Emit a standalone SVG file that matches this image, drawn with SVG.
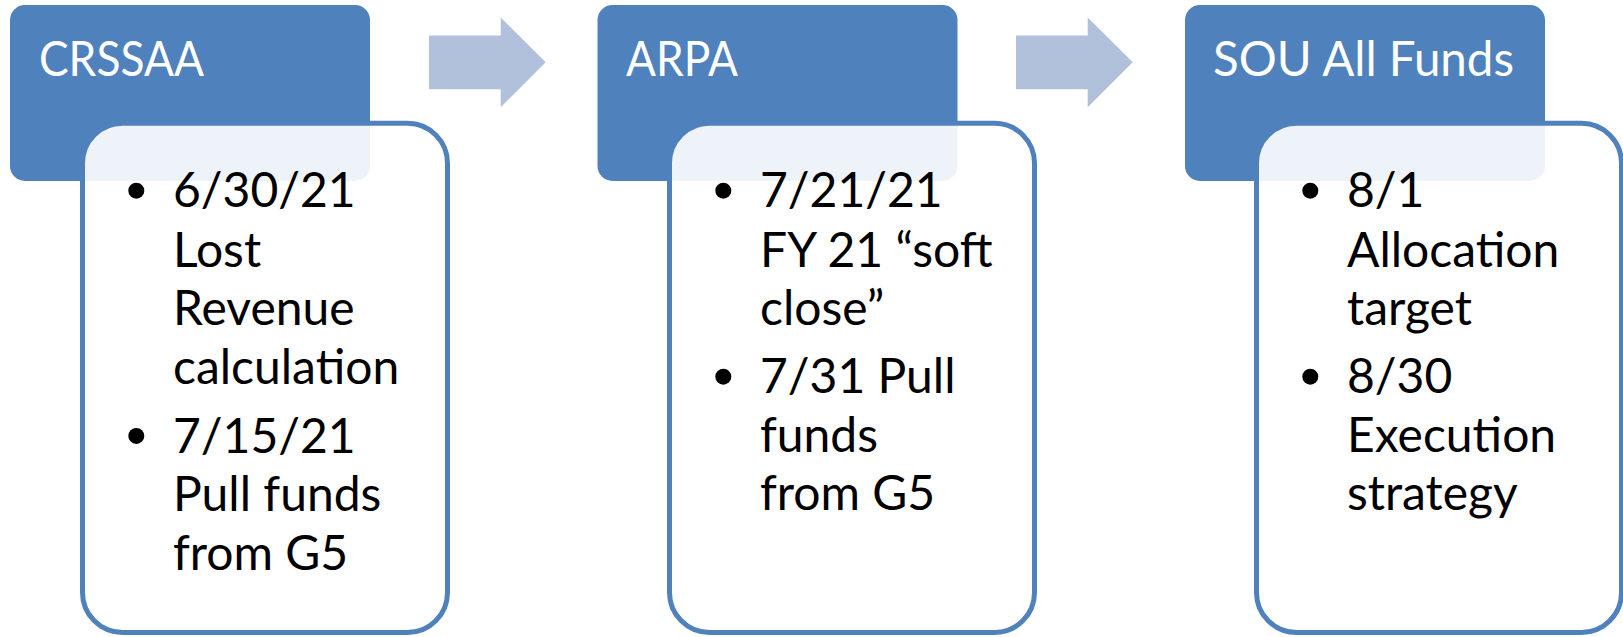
<svg xmlns="http://www.w3.org/2000/svg" width="1623" height="637" viewBox="0 0 1623 637">
  <style>
    .hdr { fill: #4F81BD; }
    .card { fill: #FFFFFF; fill-opacity: 0.9; stroke: #4F81BD; stroke-width: 5; }
    .arrow { fill: #B1C1DC; }
    .htxt { font-family: Lato, "Open Sans", sans-serif; font-size: 48px; fill: #FFFFFF; }
    .btxt { font-family: Lato, "Open Sans", sans-serif; font-size: 48px; fill: #000000; }
    .dot { fill: #000000; }
  </style>
  <rect width="1623" height="637" fill="#FFFFFF"/>

  <g id="connectors">
    <polygon class="arrow" points="429,35.5 500.7,35.5 500.7,17.5 545.7,62.3 500.7,107.3 500.7,89.3 429,89.3"/>
    <polygon class="arrow" points="1016,35.5 1087.7,35.5 1087.7,17.5 1132.7,62.3 1087.7,107.3 1087.7,89.3 1016,89.3"/>
  </g>

  <g id="node-crssaa">
    <rect class="hdr" x="10" y="5" width="360" height="176" rx="15"/>
    <text class="htxt" x="39" y="76" textLength="165" lengthAdjust="spacingAndGlyphs">CRSSAA</text>
    <rect class="card" x="82.5" y="123.2" width="365" height="509.3" rx="40"/>
    <circle class="dot" cx="136.3" cy="190.7" r="8"/>
    <circle class="dot" cx="136.3" cy="435.9" r="8"/>
    <text class="btxt">
      <tspan x="173" y="207.3">6/30/21</tspan>
      <tspan x="173" y="266.7">Lost</tspan>
      <tspan x="173" y="325">Revenue</tspan>
      <tspan x="173" y="384">calculation</tspan>
      <tspan x="173" y="452.5">7/15/21</tspan>
      <tspan x="173" y="511.3">Pull funds</tspan>
      <tspan x="173" y="570">from G5</tspan>
    </text>
  </g>

  <g id="node-arpa">
    <rect class="hdr" x="597.5" y="5" width="360" height="176" rx="15"/>
    <text class="htxt" x="626" y="76" textLength="112" lengthAdjust="spacingAndGlyphs">ARPA</text>
    <rect class="card" x="669.5" y="123.2" width="365" height="509.3" rx="40"/>
    <circle class="dot" cx="723.3" cy="190.7" r="8"/>
    <circle class="dot" cx="723.3" cy="376.7" r="8"/>
    <text class="btxt">
      <tspan x="760" y="207.3">7/21/21</tspan>
      <tspan x="760" y="266.7">FY 21 “soft</tspan>
      <tspan x="760" y="325">close”</tspan>
      <tspan x="760" y="393.3">7/31 Pull</tspan>
      <tspan x="760" y="451.7">funds</tspan>
      <tspan x="760" y="510">from G5</tspan>
    </text>
  </g>

  <g id="node-sou">
    <rect class="hdr" x="1185" y="5" width="360" height="176" rx="15"/>
    <text class="htxt" x="1213" y="76" textLength="301" lengthAdjust="spacingAndGlyphs">SOU All Funds</text>
    <rect class="card" x="1256.5" y="123.2" width="365" height="509.3" rx="40"/>
    <circle class="dot" cx="1310.3" cy="190.7" r="8"/>
    <circle class="dot" cx="1310.3" cy="376.7" r="8"/>
    <text class="btxt">
      <tspan x="1347" y="207.3">8/1</tspan>
      <tspan x="1347" y="266.7">Allocation</tspan>
      <tspan x="1347" y="325">target</tspan>
      <tspan x="1347" y="393.3">8/30</tspan>
      <tspan x="1347" y="451.7">Execution</tspan>
      <tspan x="1347" y="510">strategy</tspan>
    </text>
  </g>
</svg>
